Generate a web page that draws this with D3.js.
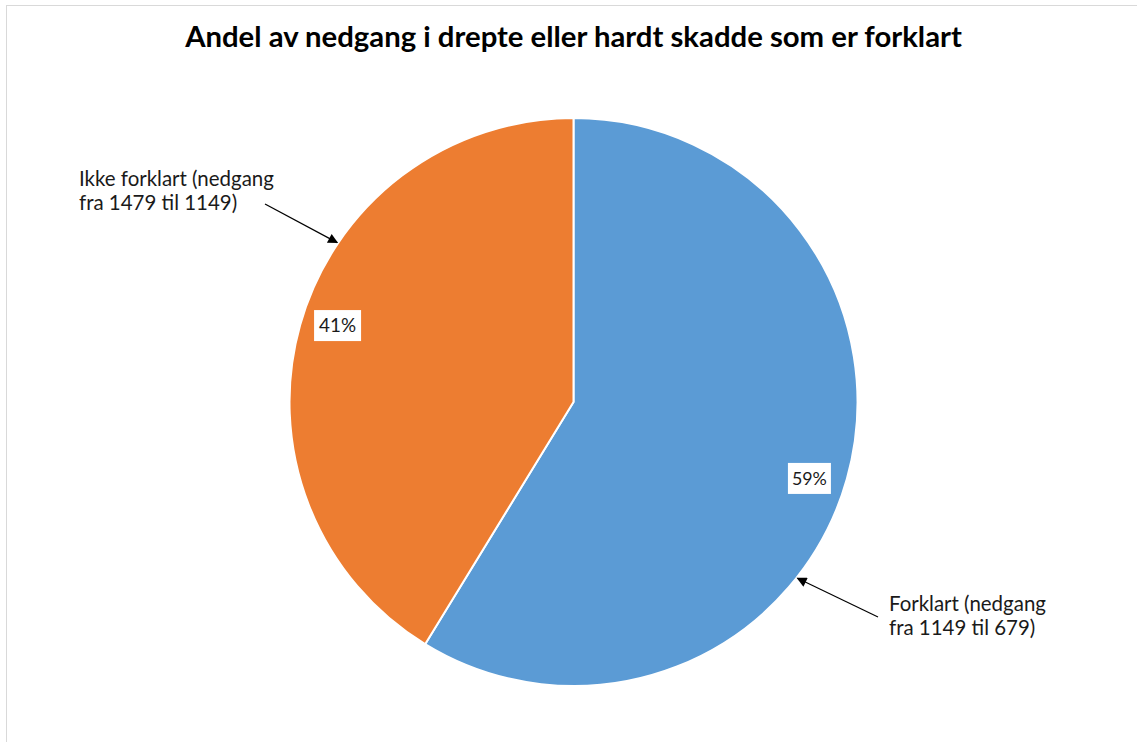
<!DOCTYPE html>
<html>
<head>
<meta charset="utf-8">
<script src="https://cdn.jsdelivr.net/npm/d3@7"></script>
<style>
  html, body { margin: 0; padding: 0; background: #fff; }
  svg { display: block; }
</style>
</head>
<body>
<svg id="chart" width="1137" height="742"></svg>
<script>
// ---- data ----
const categories = ["Forklart", "Ikke forklart"];
const fromValues = [1149, 1479];
const toValues = [679, 1149];
const values = [470, 330];           // reduction explained / not explained
const percentLabels = ["59%", "41%"];
const labelLines = [
  ["Forklart (nedgang", "fra 1149 til 679)"],
  ["Ikke forklart (nedgang", "fra 1479 til 1149)"]
];
const colors = ["#5B9BD5", "#ED7D31"];
const title = "Andel av nedgang i drepte eller hardt skadde som er forklart";

// ---- layout ----
const W = 1137, H = 742;
const cx = 573.5, cy = 402, R = 284;
const font = "Lato, 'Open Sans', sans-serif";

const svg = d3.select("#chart");

// chart frame
svg.append("rect")
  .attr("x", 6.5).attr("y", 5.5)
  .attr("width", W + 20).attr("height", H + 20)
  .attr("fill", "none").attr("stroke", "#d9d9d9").attr("stroke-width", 1);

function fitWidth(sel, target) {
  const w = sel.node().getComputedTextLength();
  const fs = +sel.attr("font-size");
  sel.attr("font-size", fs * target / w);
}

// title
const t = svg.append("text")
  .attr("x", cx).attr("y", 47)
  .attr("text-anchor", "middle")
  .attr("font-family", font)
  .attr("font-weight", "bold")
  .attr("font-size", 25)
  .attr("fill", "#000")
  .text(title);
fitWidth(t, 777);

// pie
const pie = d3.pie().sort(null).value(d => d)(values);
const arc = d3.arc().innerRadius(0).outerRadius(R);
const g = svg.append("g").attr("transform", `translate(${cx},${cy})`);

g.selectAll("path.slice")
  .data(pie)
  .join("path")
  .attr("class", "slice")
  .attr("d", arc)
  .attr("fill", (d, i) => colors[i])
  .attr("stroke", "#fff")
  .attr("stroke-width", 2)
  .attr("stroke-linejoin", "round");

// percentage labels
const labelR = 248;
const labelShift = 2.2 * Math.PI / 180;
const boxW = [43, 47];
pie.forEach((d, i) => {
  const mid = (d.startAngle + d.endAngle) / 2 + labelShift;
  const [x, y] = d3.pointRadial(mid, labelR);
  const lg = g.append("g").attr("transform", `translate(${x},${y})`);
  lg.append("rect")
    .attr("x", -boxW[i] / 2).attr("y", -15.5)
    .attr("width", boxW[i]).attr("height", 31)
    .attr("fill", "#fff");
  const txt = lg.append("text")
    .attr("text-anchor", "middle")
    .attr("dy", "0.36em")
    .attr("font-family", font)
    .attr("font-size", 19)
    .attr("fill", "#1a1a1a")
    .text(percentLabels[i]);
  fitWidth(txt, i === 0 ? 35 : 37);
});

// arrow marker
const defs = svg.append("defs");
defs.append("marker")
  .attr("id", "arrow")
  .attr("viewBox", "0 0 10 10")
  .attr("refX", 9).attr("refY", 5)
  .attr("markerWidth", 14).attr("markerHeight", 10)
  .attr("markerUnits", "userSpaceOnUse")
  .attr("orient", "auto")
  .append("path")
  .attr("d", "M0,0 L10,5 L0,10 Z")
  .attr("fill", "#000");

// callout labels
const callouts = [
  { tipAngle: 128.2, start: [878, 617], textX: 889, baseY: 611, width: 157 },
  { tipAngle: -56, start: [265, 204], textX: 79, baseY: 186, width: 195 }
];
callouts.forEach((c, i) => {
  const [tx, ty] = d3.pointRadial(c.tipAngle * Math.PI / 180, R + 1);
  svg.append("line")
    .attr("x1", c.start[0]).attr("y1", c.start[1])
    .attr("x2", cx + tx).attr("y2", cy + ty)
    .attr("stroke", "#000").attr("stroke-width", 1.2)
    .attr("marker-end", "url(#arrow)");
  const txt = svg.append("text")
    .attr("font-family", font)
    .attr("font-size", 18)
    .attr("fill", "#1a1a1a");
  // measure first line to get consistent font size
  const probe = svg.append("text")
    .attr("font-family", font).attr("font-size", 18)
    .text(labelLines[i][0]);
  const fs = 18 * c.width / probe.node().getComputedTextLength();
  probe.remove();
  txt.attr("font-size", fs);
  labelLines[i].forEach((line, j) => {
    txt.append("tspan")
      .attr("x", c.textX)
      .attr("y", c.baseY + j * 24)
      .text(line);
  });
});
</script>
</body>
</html>
